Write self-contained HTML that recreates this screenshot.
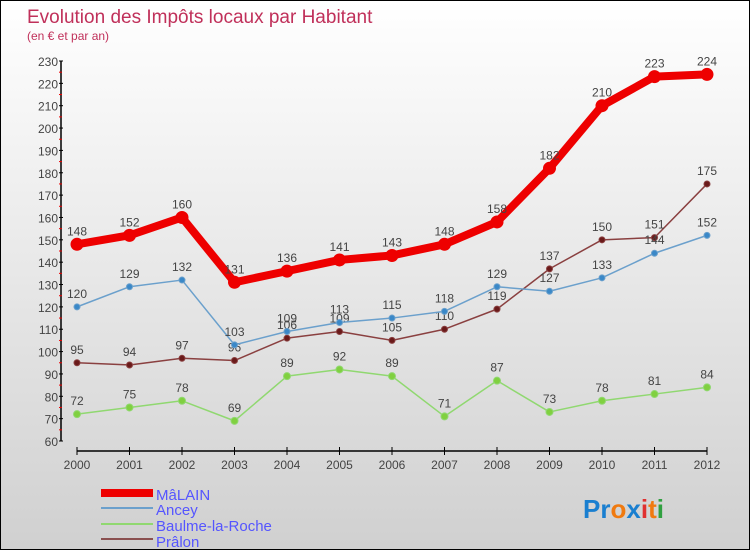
<!DOCTYPE html>
<html><head><meta charset="utf-8"><style>
body{margin:0}
#c{width:750px;height:550px;position:relative;box-sizing:border-box;border:1px solid #000;background:linear-gradient(#fff,#d0d0d0);font-family:"Liberation Sans",sans-serif;overflow:hidden}
</style></head><body>
<div id="c">
<svg id="s" width="750" height="550" style="position:absolute;left:0;top:0">
<text x="26" y="22" font-size="19" fill="#c0305a">Evolution des Impôts locaux par Habitant</text>
<text x="26" y="39" font-size="12" fill="#c0305a">(en € et par an)</text>
<g id="axes"></g><g id="series"></g>
<g>
<rect x="100" y="488" width="52" height="8" fill="#e00"/>
<text x="155" y="499" font-size="15" fill="#55f">MâLAIN</text>
<line x1="100" y1="507" x2="152" y2="507" stroke="#6ba0cc" stroke-width="2"/>
<text x="155" y="514" font-size="15" fill="#55f">Ancey</text>
<line x1="100" y1="523" x2="152" y2="523" stroke="#90d870" stroke-width="2"/>
<text x="155" y="530" font-size="15" fill="#55f">Baulme-la-Roche</text>
<line x1="100" y1="538" x2="152" y2="538" stroke="#8a5050" stroke-width="2"/>
<text x="155" y="546" font-size="15" fill="#55f">Prâlon</text>
</g>
<text x="582" y="517" font-size="26" font-weight="bold"><tspan fill="#1a7fd0">Pr</tspan><tspan fill="#f07a10">o</tspan><tspan fill="#1a7fd0">x</tspan><tspan fill="#e03030">i</tspan><tspan fill="#f07a10">t</tspan><tspan fill="#30a040">i</tspan></text>
</svg>
</div>
<script>
const years=[2000,2001,2002,2003,2004,2005,2006,2007,2008,2009,2010,2011,2012];
const yTicks=[60,70,80,90,100,110,120,130,140,150,160,170,180,190,200,210,220,230];
const malain=[148,152,160,131,136,141,143,148,158,182,210,223,224];
const ancey=[120,129,132,103,109,113,115,118,129,127,133,144,152];
const baulme=[72,75,78,69,89,92,89,71,87,73,78,81,84];
const pralon=[95,94,97,96,106,109,105,110,119,137,150,151,175];
const NS="http://www.w3.org/2000/svg";
const X=i=>76+i*52.5;
const Y=v=>440-(v-60)*380/170;
function mk(t,a,p){const e=document.createElementNS(NS,t);for(const k in a)e.setAttribute(k,a[k]);p.appendChild(e);return e;}
const ax=document.getElementById('axes');
let l=mk('line',{x1:60,y1:60,x2:60,y2:440,stroke:'#000','stroke-width':1.5},ax);


l=mk('line',{x1:76,y1:450,x2:706,y2:450,stroke:'#000','stroke-width':1.5},ax);


yTicks.forEach(v=>{
 const t=mk('text',{x:57,y:Y(v)+5,'font-size':12,fill:'#444','text-anchor':'end'},ax);t.textContent=v;
 
 
 mk('line',{x1:58,y1:Y(v),x2:62,y2:Y(v),stroke:'#000'},ax);
 if(v<230)mk('line',{x1:58,y1:Y(v+5),x2:61,y2:Y(v+5),stroke:'#e00'},ax);
});
years.forEach((yr,i)=>{
 mk('line',{x1:X(i),y1:446,x2:X(i),y2:454,stroke:'#000'},ax);
 const t=mk('text',{x:X(i),y:468,'font-size':12,fill:'#444','text-anchor':'middle'},ax);t.textContent=yr;
 
 
});
const sg=document.getElementById('series');
function draw(vals,color,w,r,name,dot){
 const g=mk('g',{},sg);
 
 
 mk('polyline',{points:vals.map((v,i)=>X(i)+','+Y(v)).join(' '),fill:'none',stroke:color,'stroke-width':w,'stroke-linejoin':'round'},g);
 vals.forEach((v,i)=>{
  const c=mk('circle',{cx:X(i),cy:Y(v),r:r,fill:dot,stroke:color,'stroke-width':1},g);
  
  
  const t=mk('text',{x:X(i),y:Y(v)-9,'font-size':12,fill:'#444','text-anchor':'middle'},g);t.textContent=v;
  
  
 });
}
draw(baulme,'#90d870',1.5,3.5,'baulme','#80d040');
draw(pralon,'#8a4040',1.5,3,'pralon','#6a1a1a');
draw(ancey,'#6ba0cc',1.5,3,'ancey','#3a88c8');
draw(malain,'#e00',8,6,'malain','#e00');
</script>
</body></html>
